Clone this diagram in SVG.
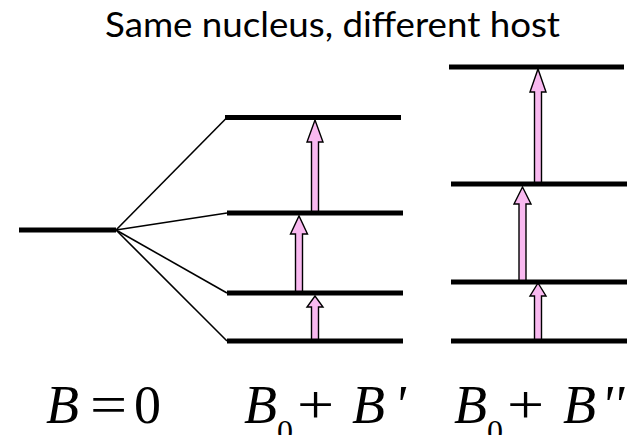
<svg xmlns="http://www.w3.org/2000/svg" width="636" height="435" viewBox="0 0 636 435">
  <style>
    .lvl { stroke: #000; stroke-width: 5; fill: none; }
    .fan { stroke: #000; stroke-width: 1.6; fill: none; }
    .arr { fill: #F9B9F0; stroke: #000; stroke-width: 1.4; stroke-linejoin: miter; }
    .title { font-family: Lato, "Open Sans", sans-serif; font-size: 35px; fill: #000; }
    .mi { font-family: "Liberation Serif", serif; font-style: italic; font-size: 54px; fill: #000; }
    .mr { font-family: "Liberation Serif", serif; font-size: 54px; fill: #000; }
    .op { font-family: "Liberation Serif", serif; font-size: 54px; fill: #000; }
    .sub { font-family: "Liberation Serif", serif; font-size: 32px; fill: #000; }
  </style>
  <rect width="636" height="435" fill="#fff"/>
  <g id="title">
    <text class="title" x="105" y="37" textLength="455" lengthAdjust="spacingAndGlyphs">Same nucleus, different host</text>
  </g>
  <g id="connectors">
    <line class="fan" x1="116" y1="230" x2="227" y2="117.5"/>
    <line class="fan" x1="116" y1="230" x2="227" y2="213"/>
    <line class="fan" x1="116" y1="230" x2="227" y2="293"/>
    <line class="fan" x1="116" y1="230" x2="227" y2="341"/>
    <polygon class="arr" points="311.5,213 311.5,142 307,142 315,120 323,142 318.5,142 318.5,213"/>
    <polygon class="arr" points="295.5,293 295.5,234 290.5,234 299,216 307.5,234 302.5,234 302.5,293"/>
    <polygon class="arr" points="311.5,341 311.5,307 307,307 315,296 323,307 318.5,307 318.5,341"/>
    <polygon class="arr" points="534.5,183 534.5,92 530,92 538,69 546,92 541.5,92 541.5,183"/>
    <polygon class="arr" points="519,282 519,204 514,204 522.5,187 531,204 526,204 526,282"/>
    <polygon class="arr" points="534.5,341 534.5,296 530,296 538,283 546,296 541.5,296 541.5,341"/>
  </g>
  <g id="level-zero">
    <line class="lvl" x1="19" y1="230" x2="116" y2="230"/>
  </g>
  <g id="levels-host1">
    <line class="lvl" x1="225" y1="117.5" x2="401" y2="117.5"/>
    <line class="lvl" x1="227" y1="213" x2="403" y2="213"/>
    <line class="lvl" x1="227" y1="293" x2="403" y2="293"/>
    <line class="lvl" x1="227" y1="341" x2="403" y2="341"/>
  </g>
  <g id="levels-host2">
    <line class="lvl" x1="449" y1="67" x2="624" y2="67"/>
    <line class="lvl" x1="451" y1="184" x2="627" y2="184"/>
    <line class="lvl" x1="451" y1="282" x2="627" y2="282"/>
    <line class="lvl" x1="451" y1="341" x2="627" y2="341"/>
  </g>
  <g id="label-zero">
    <text class="mi" x="46" y="423">B</text>
    <text class="op" transform="translate(90,423) scale(1.22,1)" x="0" y="0">=</text>
    <text class="mr" x="134" y="423">0</text>
  </g>
  <g id="label-host1">
    <text class="mi" x="244" y="423">B</text>
    <text class="sub" x="277" y="442">0</text>
    <text class="op" transform="translate(297,423) scale(1.22,1)" x="0" y="0">+</text>
    <text class="mi" x="352" y="423">B</text>
    <text class="mi" x="394" y="423">'</text>
  </g>
  <g id="label-host2">
    <text class="mi" x="454" y="423">B</text>
    <text class="sub" x="487" y="442">0</text>
    <text class="op" transform="translate(507,423) scale(1.22,1)" x="0" y="0">+</text>
    <text class="mi" x="563" y="423">B</text>
    <text class="mi" x="601" y="423">''</text>
  </g>
</svg>
